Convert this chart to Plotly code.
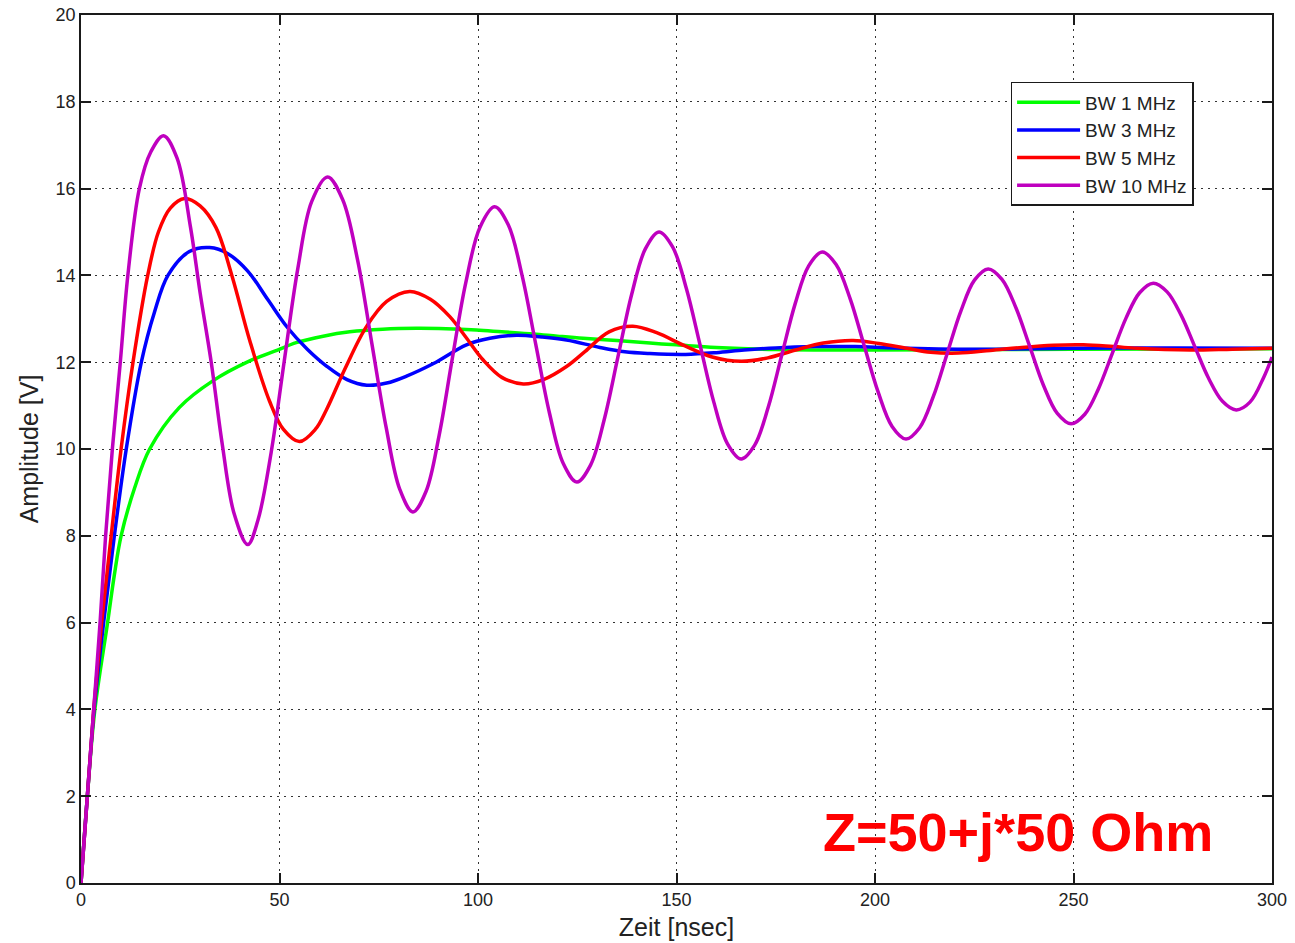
import plotly.graph_objects as go

# Step response of the source into Z = 50 + j*50 Ohm for several bandwidths
# time in nsec, amplitude in V

t_bw1 = [0, 1.6, 3.5, 6.7, 8.4, 10.1, 13.5, 17.3, 24.8, 33.2, 42.5, 49.5, 54.2, 61,
         67.7, 76, 84.5, 92, 99.6, 106, 113.9, 120, 126.5, 135, 143.3, 150, 160, 175,
         200, 250, 300]
v_bw1 = [0, 2.0, 4.0, 6.0, 7.1, 8.0, 9.1, 10.0, 10.96, 11.57, 12.03, 12.28, 12.45, 12.6,
         12.7, 12.76, 12.78, 12.77, 12.74, 12.7, 12.65, 12.6, 12.55, 12.5, 12.44, 12.4,
         12.34, 12.29, 12.28, 12.3, 12.31]

t_bw3 = [0, 1.6, 3.3, 5.7, 8.4, 11.4, 15.2, 18.5, 21.9, 27.3, 32.4, 37, 42, 47, 52,
         57, 62, 67, 72, 77, 82, 88.8, 97.1, 103, 109.7, 116, 122.3, 130.7, 137, 143.3,
         152.3, 160, 167, 175, 185, 195, 205, 225, 250, 275, 300]
v_bw3 = [0, 2.0, 4.0, 6.0, 8.0, 10.0, 12.0, 13.15, 14.0, 14.55, 14.64, 14.5, 14.1, 13.45, 12.8,
         12.3, 11.9, 11.6, 11.47, 11.52, 11.68, 11.97, 12.4, 12.55, 12.62, 12.58, 12.51, 12.34,
         12.24, 12.2, 12.18, 12.22, 12.28, 12.33, 12.36, 12.36, 12.33, 12.3, 12.32, 12.33, 12.32]

t_bw5 = [0, 1.6, 3.2, 5.2, 7.6, 10.1, 13.1, 16.8, 19.5, 22.5, 26.1, 30, 34, 38, 42.5,
         47.5, 51, 55.0, 59, 61.8, 66.5, 71.9, 77, 82.8, 88, 92.9, 97, 101.3, 106, 111.4,
         116.5, 122.3, 127, 133, 139, 145, 152, 159, 166.3, 173, 180, 187, 194.5, 201,
         208, 214, 221, 229, 237, 245, 252.5, 260, 266, 273, 280, 290, 300]
v_bw5 = [0, 2.0, 4.0, 6.0, 8.0, 10.0, 12.0, 14.0, 15.0, 15.55, 15.77, 15.6, 15.1, 14.0, 12.5,
         11.1, 10.45, 10.17, 10.45, 10.9, 11.85, 12.82, 13.4, 13.63, 13.45, 13.05, 12.57, 12.05,
         11.65, 11.5, 11.6, 11.9, 12.25, 12.7, 12.83, 12.68, 12.38, 12.12, 12.02, 12.1, 12.28,
         12.44, 12.5, 12.43, 12.32, 12.23, 12.21, 12.27, 12.34, 12.39, 12.4, 12.36, 12.32,
         12.29, 12.28, 12.3, 12.32]

t_bw10 = [0, 1.6, 3.2, 4.8, 6.2, 7.9, 9.9, 11.8, 14.7, 17.6,
          20.8, 24.2, 27.6, 30.0, 32.8, 35.6, 38.6, 42.0, 44.6, 47.9,
          51.2, 54.6, 58.1, 62.1, 65.9, 69.7, 73.3, 76.9, 80.3, 83.6,
          86.9, 90.2, 93.5, 96.9, 100.5, 104.2, 107.65, 111.1, 114.55, 118.0,
          121.45, 124.9, 128.35, 131.8, 135.25, 138.7, 142.15, 145.6, 149.05, 152.5,
          155.95, 159.4, 162.85, 166.3, 169.7, 173.1, 176.5, 179.9, 183.3, 186.7,
          190.2, 193.75, 197.25, 200.8, 204.3, 207.8, 211.25, 214.7, 218.15, 221.6,
          225.05, 228.5, 231.98, 235.47, 238.95, 242.43, 245.92, 249.4, 252.85, 256.3,
          259.75, 263.2, 266.65, 270.1, 273.58, 277.07, 280.55, 284.03, 287.52, 291.0,
          294.45, 297.9, 300]
v_bw10 = [0, 2.0, 4.0, 6.0, 8.0, 10.0, 12.0, 14.0, 16.0, 16.85,
          17.22, 16.7, 15.1, 13.6, 12.0, 10.1, 8.5, 7.8, 8.37, 9.92,
          12.03, 14.15, 15.7, 16.27, 15.75, 14.34, 12.41, 10.48, 9.07, 8.55,
          9.02, 10.31, 12.07, 13.82, 15.11, 15.58, 15.16, 14.0, 12.41, 10.83,
          9.67, 9.24, 9.63, 10.68, 12.12, 13.56, 14.61, 15.0, 14.65, 13.69,
          12.39, 11.08, 10.12, 9.77, 10.09, 10.96, 12.16, 13.35, 14.22, 14.54,
          14.25, 13.46, 12.39, 11.31, 10.52, 10.23, 10.49, 11.21, 12.19, 13.17,
          13.89, 14.15, 13.91, 13.26, 12.37, 11.47, 10.82, 10.58, 10.8, 11.39,
          12.2, 13.01, 13.6, 13.82, 13.62, 13.09, 12.36, 11.63, 11.1, 10.9,
          11.08, 11.65, 12.12]

series = [
    ("BW 1 MHz", t_bw1, v_bw1, "#00ff00"),
    ("BW 3 MHz", t_bw3, v_bw3, "#0000ff"),
    ("BW 5 MHz", t_bw5, v_bw5, "#ff0000"),
    ("BW 10 MHz", t_bw10, v_bw10, "#bf00bf"),
]

x_ticks = [0, 50, 100, 150, 200, 250, 300]
y_ticks = [0, 2, 4, 6, 8, 10, 12, 14, 16, 18, 20]

FONT = "Liberation Sans, Arial, Helvetica, sans-serif"

fig = go.Figure()
for name, t, v, color in series:
    fig.add_trace(go.Scatter(
        x=t, y=v, name=name, mode="lines",
        line=dict(color=color, width=3.5, shape="spline", smoothing=1.0),
    ))

axis_common = dict(
    showline=True, linecolor="#1a1a1a", linewidth=1.5, mirror="ticks",
    ticks="inside", ticklen=10, tickwidth=2, tickcolor="#1a1a1a",
    showgrid=True, gridcolor="#333333", gridwidth=1, griddash="2px,5px",
    zeroline=False, automargin=False,
    tickfont=dict(family=FONT, size=18, color="#222222"),
)

fig.update_layout(
    width=1295, height=943,
    margin=dict(l=81, r=23, t=15, b=60),
    paper_bgcolor="white", plot_bgcolor="white",
    font=dict(family=FONT, color="#222222"),
    xaxis=dict(range=[0, 300], tickvals=x_ticks,
               title=dict(text="Zeit [nsec]", font=dict(family=FONT, size=25, color="#222222"),
                          standoff=9),
               **axis_common),
    yaxis=dict(range=[0, 20], tickvals=y_ticks,
               title=dict(text="Amplitude [V]", font=dict(family=FONT, size=25, color="#222222"),
                          standoff=10),
               **axis_common),
    legend=dict(x=0.7805, y=0.923, xanchor="left", yanchor="top",
                bgcolor="white", bordercolor="#1a1a1a", borderwidth=1.5,
                font=dict(family=FONT, size=19, color="#222222"),
                itemwidth=63, tracegroupgap=0),
    showlegend=True,
)

fig.add_annotation(
    x=236, y=1.18, xref="x", yref="y", showarrow=False,
    text="<b>Z=50+j*50 Ohm</b>",
    font=dict(family=FONT, size=54, color="#ff0000"),
)

fig.write_html("out.html")
